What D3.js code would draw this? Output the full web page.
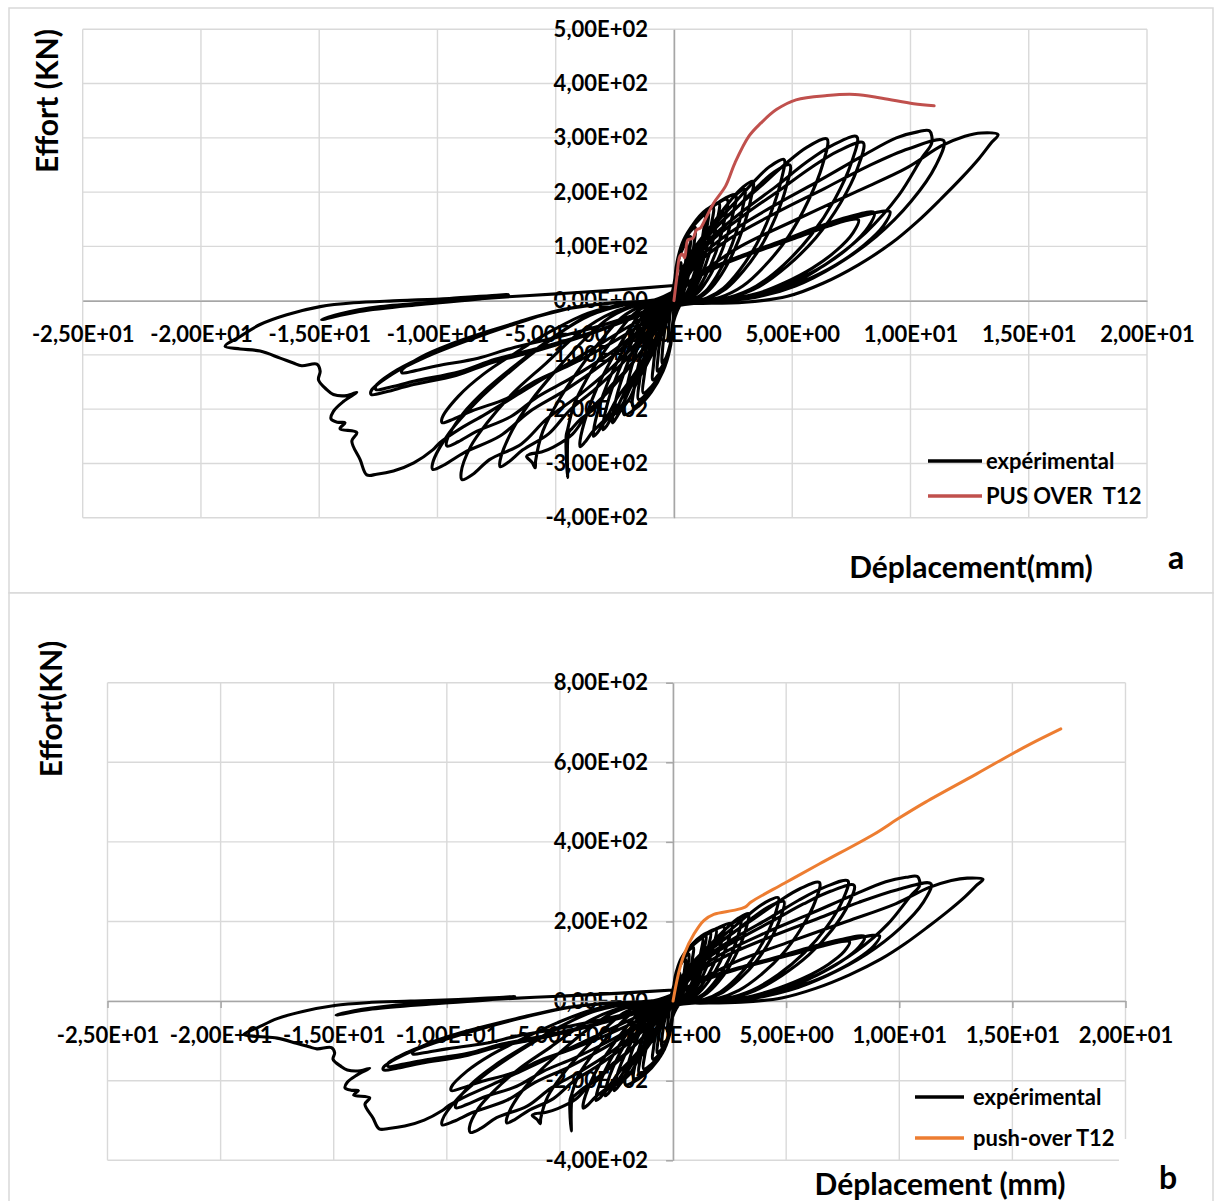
<!DOCTYPE html>
<html>
<head>
<meta charset="utf-8">
<script src="https://cdn.jsdelivr.net/npm/d3@7"></script>
<style>
  body { margin: 0; background: #fff; }
  svg text { font-family: Lato, "Open Sans", sans-serif; font-weight: 700; fill: #000; }
</style>
</head>
<body>
<svg id="fig" width="1215" height="1201"></svg>
<script>
// Cyclic test: displacement (mm) vs force (kN), traced cycle by cycle.
const smallCycles = [
  [0,0],[0.01,18],[0.03,32],[0.08,46],[0.15,57],[0.23,66],[0.3,70],[0.29,56],[0.24,35],[0.18,18],[0.12,6],[0.06,0],
  [-0.01,-15],[-0.02,-32],[-0.06,-47],[-0.11,-60],[-0.18,-70],[-0.25,-75],[-0.24,-62],[-0.21,-44],[-0.17,-26],[-0.12,-11],[-0.07,-3],[-0.03,0],
  [0.02,26],[0.06,47],[0.14,68],[0.28,86],[0.41,99],[0.55,105],[0.52,84],[0.44,53],[0.33,26],[0.22,8],[0.11,0],
  [-0.01,-23],[-0.04,-48],[-0.11,-71],[-0.23,-92],[-0.36,-107],[-0.5,-115],[-0.49,-94],[-0.43,-67],[-0.34,-40],[-0.24,-17],[-0.14,-5],[-0.05,0],
  [0.02,30],[0.07,53],[0.18,77],[0.35,97],[0.53,111],[0.7,118],[0.67,94],[0.56,59],[0.42,30],[0.28,9],[0.14,0],
  [-0.01,-26],[-0.06,-55],[-0.15,-81],[-0.32,-104],[-0.5,-121],[-0.7,-130],[-0.68,-107],[-0.6,-75],[-0.48,-46],[-0.34,-20],[-0.2,-5],[-0.07,0],
  [0.03,34],[0.09,61],[0.23,88],[0.45,111],[0.68,127],[0.9,135],[0.86,108],[0.72,68],[0.54,34],[0.36,11],[0.18,0],
  [-0.02,-29],[-0.07,-61],[-0.2,-91],[-0.41,-117],[-0.65,-136],[-0.9,-146],[-0.87,-120],[-0.77,-85],[-0.61,-51],[-0.43,-22],[-0.25,-6],[-0.09,0],
  [0.04,40],[0.13,71],[0.33,103],[0.65,130],[0.98,149],[1.3,158],[1.24,126],[1.04,79],[0.78,40],[0.52,13],[0.26,0],
  [-0.03,-34],[-0.1,-71],[-0.29,-105],[-0.59,-136],[-0.94,-158],[-1.3,-170],[-1.26,-139],[-1.1,-99],[-0.88,-60],[-0.62,-26],[-0.36,-7],[-0.13,0],
  [0.04,41],[0.15,74],[0.36,107],[0.73,135],[1.09,155],[1.45,165],[1.38,132],[1.16,83],[0.87,41],[0.58,13],[0.29,0],
  [-0.03,-36],[-0.12,-76],[-0.33,-113],[-0.68,-146],[-1.08,-169],[-1.5,-182],[-1.46,-149],[-1.28,-106],[-1.02,-64],[-0.72,-27],[-0.42,-7],[-0.15,0],
  [0.05,43],[0.17,78],[0.41,112],[0.83,142],[1.24,163],[1.65,173],[1.57,138],[1.32,87],[0.99,43],[0.66,14],[0.33,0],
  [-0.03,-39],[-0.14,-82],[-0.38,-121],[-0.78,-156],[-1.25,-181],[-1.73,-195],[-1.68,-160],[-1.47,-113],[-1.18,-68],[-0.83,-29],[-0.48,-8],[-0.17,0],
  [0.06,45],[0.19,81],[0.48,117],[0.95,148],[1.43,169],[1.9,180],[1.81,144],[1.52,90],[1.14,45],[0.76,14],[0.38,0],
  [-0.04,-42],[-0.17,-88],[-0.46,-130],[-0.95,-168],[-1.51,-195],[-2.1,-210],[-2.04,-172],[-1.79,-122],[-1.43,-74],[-1.01,-32],[-0.59,-8],[-0.21,0],
  [0.07,47],[0.23,84],[0.56,121],[1.13,153],[1.69,175],[2.25,186],[2.14,149],[1.8,93],[1.35,47],[0.9,15],[0.45,0],
  [-0.08,-11],[-0.34,-41],[-0.75,-83],[-1.17,-119],[-1.56,-149],[-1.87,-180],[-2.26,-203],[-2.47,-218],[-2.6,-225],[-2.6,-216],[-2.42,-176],[-2.13,-135],[-1.77,-95],[-1.35,-54],[-0.96,-23],[-0.57,-7],[-0.21,0],
  [0.08,49],[0.26,88],[0.65,127],[1.3,160],[1.95,183],[2.6,195],[2.47,156],[2.08,98],[1.56,49],[1.04,16],[0.52,0],
  [-0.09,-12],[-0.39,-43],[-0.87,-88],[-1.35,-126],[-1.8,-157],[-2.16,-190],[-2.61,-214],[-2.85,-231],[-3.0,-238],[-3.0,-228],[-2.79,-186],[-2.46,-143],[-2.04,-100],[-1.56,-57],[-1.11,-24],[-0.66,-7],[-0.24,0]
];

const midCycles = [
  [0.07,18],[0.27,48],[0.67,84],[1.27,121],[1.87,154],[2.4,185],[2.91,209],[3.34,220],[3.24,185],[2.94,136],[2.5,88],[2.0,48],[1.5,20],[1.0,4],[0.4,-2],
  [-0.1,-13],[-0.44,-45],[-0.99,-93],[-1.53,-133],[-2.04,-165],[-2.45,-200],[-2.96,-225],[-3.23,-243],[-3.4,-250],[-3.4,-240],[-3.16,-195],[-2.79,-150],[-2.31,-105],[-1.77,-60],[-1.26,-25],[-0.75,-8],[-0.27,0],
  [0.06,16],[0.24,45],[0.6,78],[1.14,113],[1.68,144],[2.16,172],[2.61,195],[3.0,205],[2.91,172],[2.64,127],[2.25,82],[1.8,45],[1.35,18],[0.9,4],[0.36,-2],
  [-0.12,-13],[-0.52,-48],[-1.15,-100],[-1.79,-143],[-2.38,-178],[-2.86,-215],[-3.45,-242],[-3.77,-261],[-3.97,-269],[-3.97,-258],[-3.69,-210],[-3.26,-161],[-2.7,-113],[-2.06,-65],[-1.47,-27],[-0.87,-8],[-0.32,0],
  [0.09,21],[0.37,57],[0.93,99],[1.77,143],[2.6,182],[3.35,218],[4.05,247],[4.65,260],[4.51,218],[4.09,161],[3.49,104],[2.79,57],[2.09,23],[1.4,5],[0.56,-3],
  [-0.14,-12],[-0.59,-44],[-1.31,-90],[-2.04,-129],[-2.72,-160],[-3.26,-195],[-3.94,-218],[-4.3,-235],[-4.45,-243],[-4.5,-326],[-4.56,-250],[-4.5,-238],[-4.21,-190],[-3.71,-146],[-3.08,-102],[-2.36,-58],[-1.68,-24],[-1.0,-7],[-0.36,0],
  [0.1,20],[0.39,55],[0.98,95],[1.86,138],[2.74,175],[3.53,210],[4.26,238],[4.9,250],[4.75,210],[4.31,155],[3.68,100],[2.94,55],[2.2,22],[1.47,5],[0.59,-3],
  [-0.18,-15],[-0.77,-55],[-1.73,-114],[-2.68,-163],[-3.58,-203],[-4.29,-246],[-5.1,-270],[-5.6,-279],[-6.1,-283],[-6.23,-287],[-6.0,-298],[-5.87,-308],[-5.85,-295],[-5.54,-240],[-4.89,-185],[-4.05,-129],[-3.1,-74],[-2.21,-31],[-1.31,-9],[-0.48,0]
];

const largeCycles = [
  [0.13,24],[0.52,66],[1.29,113],[2.46,164],[3.62,209],[4.66,250],[5.63,283],[6.47,298],[6.28,250],[5.69,185],[4.85,119],[3.88,66],[2.91,27],[1.94,6],[0.78,-3],
  [-0.22,-15],[-0.96,-55],[-2.13,-113],[-3.31,-162],[-4.41,-202],[-5.29,-245],[-6.39,-275],[-6.98,-297],[-7.35,-306],[-7.35,-294],[-6.84,-239],[-6.03,-184],[-5.0,-129],[-3.82,-73],[-2.72,-31],[-1.62,-9],[-0.59,0],
  [0.15,24],[0.62,66],[1.55,115],[2.94,166],[4.33,211],[5.57,254],[6.73,287],[7.73,302],[7.5,254],[6.8,187],[5.8,121],[4.64,66],[3.48,27],[2.32,6],[0.93,-3],
  [-0.27,-17],[-1.15,-59],[-2.6,-122],[-4.03,-175],[-5.38,-218],[-6.45,-264],[-7.8,-293],[-8.5,-320],[-8.96,-330],[-9.0,-317],[-8.6,-269],[-7.9,-225],[-6.8,-170],[-5.4,-115],[-4.0,-59],[-2.6,-22],[-1.1,-4],[-0.3,0],
  [0.16,23],[0.64,64],[1.6,111],[3.04,160],[4.48,204],[5.76,244],[6.96,276],[8.0,291],[7.76,244],[7.04,180],[6.0,116],[4.8,64],[3.6,26],[2.4,6],[0.96,-3],
  [-0.29,-13],[-1.25,-48],[-2.78,-99],[-4.32,-142],[-5.76,-177],[-6.91,-214],[-8.35,-241],[-9.12,-260],[-9.6,-268],[-9.6,-257],[-8.93,-209],[-7.87,-161],[-6.53,-113],[-4.99,-64],[-3.55,-27],[-2.11,-8],[-0.77,0],
  [0.22,25],[0.86,69],[2.16,119],[4.1,172],[6.05,219],[7.9,265],[9.4,300],[10.3,311],[10.8,313],[10.9,291],[10.48,263],[9.5,194],[8.1,125],[6.48,69],[4.86,28],[3.24,6],[1.3,-3],
  [-0.31,-16],[-1.33,-56],[-2.96,-115],[-4.59,-165],[-6.12,-205],[-7.34,-249],[-8.87,-280],[-9.69,-302],[-10.2,-311],[-10.2,-299],[-9.49,-243],[-8.36,-187],[-6.94,-131],[-5.3,-75],[-3.77,-31],[-2.24,-9],[-0.82,0]
];

const degradedCycles = [
  [0.18,13],[0.73,36],[1.83,62],[3.47,90],[5.11,115],[6.57,138],[7.94,156],[9.13,164],[8.86,138],[8.03,102],[6.85,66],[5.48,36],[4.11,15],[2.74,3],[1.1,-2],
  [-0.29,-11],[-1.27,-41],[-2.84,-83],[-4.41,-119],[-5.88,-149],[-7.06,-180],[-8.53,-203],[-9.31,-218],[-9.8,-225],[-9.8,-216],[-9.11,-176],[-8.04,-135],[-6.66,-95],[-5.1,-54],[-3.63,-23],[-2.16,-7],[-0.78,0],
  [0.23,24],[0.91,65],[2.28,112],[4.33,162],[6.38,207],[8.21,248],[9.92,280],[11.4,295],[11.06,248],[10.03,183],[8.55,118],[6.84,65],[5.13,27],[3.42,6],[1.37,-3],
  [-0.38,-9],[-1.66,-31],[-3.71,-64],[-5.76,-92],[-7.68,-114],[-9.22,-138],[-11.14,-156],[-12.16,-168],[-12.8,-173],[-12.8,-166],[-11.9,-135],[-10.5,-104],[-8.7,-73],[-6.66,-42],[-4.74,-17],[-2.82,-5],[-1.02,0],
  [0.17,13],[0.68,36],[1.69,62],[3.22,89],[4.74,113],[6.1,136],[7.37,154],[8.47,162],[8.22,136],[7.45,100],[6.35,65],[5.08,36],[3.81,15],[2.54,3],[1.02,-2],
  [-0.38,-8],[-1.64,-30],[-3.65,-61],[-5.67,-87],[-7.56,-108],[-9.07,-131],[-10.96,-148],[-11.97,-159],[-12.6,-164],[-12.6,-157],[-11.72,-128],[-10.33,-98],[-8.57,-69],[-6.55,-39],[-4.66,-16],[-2.77,-5],[-1.01,0],
  [0.16,12],[0.62,33],[1.56,57],[2.96,82],[4.37,104],[5.62,125],[6.79,142],[7.8,149],[7.57,125],[6.86,92],[5.85,60],[4.68,33],[3.51,13],[2.34,3],[0.94,-1],
  [-0.35,-7],[-1.5,-24],[-3.34,-49],[-5.18,-70],[-6.9,-88],[-8.28,-106],[-10.0,-120],[-10.93,-129],[-11.5,-133],[-11.5,-128],[-10.7,-104],[-9.43,-80],[-7.82,-56],[-5.98,-32],[-4.26,-13],[-2.53,-4],[-0.92,0]
];

const finalCycle = [
  [0.27,24],[1.1,50],[2.74,98],[5.2,150],[7.67,200],[9.86,245],[11.3,285],[12.3,303],[13.0,309],[13.7,306],[13.4,290],[12.9,262],[12.2,228],[11.3,188],[10.3,146],[9.2,106],[7.8,66],[6.3,32],[4.8,8],[3.0,-3],[1.2,-5],
  [0,-5],[-0.8,-20],[-2,-50],[-3.5,-90],[-5,-130],[-6.5,-170],[-8.0,-210],[-9.0,-235],[-9.9,-262],[-10.2,-275],[-11.0,-299],[-11.86,-314],[-12.57,-320],[-12.99,-321],
  [-13.27,-293],[-13.62,-259],[-13.41,-243],[-14.12,-236],[-13.91,-225],[-14.23,-224],[-14.5,-218],[-14.4,-204],[-13.98,-186],[-13.41,-169],
  [-13.83,-175],[-14.4,-173],[-14.68,-164],[-15.03,-146],[-14.96,-130],[-15.1,-117],[-15.74,-120],[-16.09,-115],[-16.65,-106],[-17.5,-93],[-18.34,-89],[-18.98,-84],
  [-18.34,-66],[-17.5,-44],[-16.37,-26],[-14.96,-11],[-13.55,-4],[-11.6,0],[-9.5,4],[-7.0,11],
  [-8.2,3],[-10.7,-7],[-13.3,-20],[-14.9,-35],[-14.1,-24],[-12.4,-11],[-9.9,-2],[-7.4,6],[-4.8,13],[-2.3,20],[0,28]
];

// Monotonic push-over predictions
const pushoverA = [[0,0],[0.11,39],[0.25,82],[0.35,86],[0.45,79],[0.59,112],[0.8,115],[0.96,131],[1.1,133],[1.31,149],[1.68,180],[2.18,211],[2.58,254],[3.17,303],[3.67,327],[4.33,352],[5.16,370],[6.47,378],[7.65,380],[8.8,373],[10.13,363],[11.0,359]];
const pushoverB = [[0,0],[0.24,69],[0.5,119],[0.93,169],[1.37,203],[1.8,218],[2.67,228],[3.18,236],[3.45,249],[4.92,296],[6.48,345],[8.9,420],[9.94,458],[11.16,500],[13.42,571],[14.98,621],[15.83,647],[17.14,684]];

// Axis ticks
const xTickValues = [-25, -20, -15, -10, -5, 0, 5, 10, 15, 20];
const yTickValuesA = [-400, -300, -200, -100, 0, 100, 200, 300, 400, 500];
const yTickValuesB = [-400, -200, 0, 200, 400, 600, 800];

const experimental = [...smallCycles, ...midCycles, ...largeCycles, ...degradedCycles, ...finalCycle];

// Excel-style scientific label: 2,50E+01
function sci(v) {
  const [m, e] = v.toExponential(2).split("e");
  const ei = parseInt(e, 10);
  return m.replace(".", ",") + "E" + (ei < 0 ? "-" : "+") + String(Math.abs(ei)).padStart(2, "0");
}

const svg = d3.select("#fig");
const GRID = "#d9d9d9", AXIS = "#a6a6a6";

function drawPanel(cfg) {
  const g = svg.append("g");
  g.append("rect").attr("x", cfg.card[0]).attr("y", cfg.card[1]).attr("width", cfg.card[2]).attr("height", cfg.card[3])
    .attr("fill", "#fff").attr("stroke", GRID).attr("stroke-width", 1.5);

  const x = d3.scaleLinear().domain([-25, 20]).range([cfg.left, cfg.right]);
  const y = d3.scaleLinear().domain(cfg.yDomain).range([cfg.bottom, cfg.top]);

  // grid
  g.append("g").selectAll("line").data(xTickValues).join("line")
    .attr("x1", d => x(d)).attr("x2", d => x(d)).attr("y1", cfg.top).attr("y2", cfg.bottom)
    .attr("stroke", GRID).attr("stroke-width", 1.4);
  g.append("g").selectAll("line").data(cfg.yTicks).join("line")
    .attr("x1", cfg.left).attr("x2", cfg.right).attr("y1", d => y(d)).attr("y2", d => y(d))
    .attr("stroke", GRID).attr("stroke-width", 1.4);

  // axes through the origin
  const yAxis = d3.axisLeft(y).tickValues(cfg.yTicks).tickFormat(sci)
    .tickSizeInner(cfg.tick).tickSizeOuter(0).tickPadding(cfg.yPad);
  const xAxis = d3.axisBottom(x).tickValues(xTickValues).tickFormat(sci)
    .tickSizeInner(cfg.tick).tickSizeOuter(0).tickPadding(cfg.xPad);
  const ya = g.append("g").attr("transform", `translate(${x(0)},0)`).call(yAxis);
  const xa = g.append("g").attr("transform", `translate(0,${y(0)})`).call(xAxis);
  [ya, xa].forEach(a => {
    a.select(".domain").attr("stroke", AXIS).attr("stroke-width", 1.5);
    a.selectAll(".tick line").attr("stroke", AXIS).attr("stroke-width", 1.5);
    a.selectAll("text").attr("font-family", "Lato").attr("font-weight", 700)
      .attr("font-size", cfg.tickFont).attr("fill", "#000");
  });

  const line = d3.line().x(d => x(d[0])).y(d => y(d[1])).curve(d3.curveCatmullRom.alpha(0.5));
  g.append("path").datum(experimental).attr("d", line)
    .attr("fill", "none").attr("stroke", "#000").attr("stroke-width", 3.1)
    .attr("stroke-linejoin", "round").attr("stroke-linecap", "round");
  g.append("path").datum(cfg.pushover).attr("d", line)
    .attr("fill", "none").attr("stroke", cfg.color).attr("stroke-width", 3)
    .attr("stroke-linejoin", "round").attr("stroke-linecap", "round");

  // legend
  const lg = g.append("g");
  if (cfg.legendMask) {
    lg.append("rect").attr("x", cfg.legendMask[0]).attr("y", cfg.legendMask[1])
      .attr("width", cfg.legendMask[2]).attr("height", cfg.legendMask[3]).attr("fill", "#fff");
  }
  const items = [["expérimental", "#000"], [cfg.pushName, cfg.color]];
  items.forEach((it, i) => {
    const yy = cfg.legend.y[i];
    lg.append("line").attr("x1", cfg.legend.x1).attr("x2", cfg.legend.x2).attr("y1", yy).attr("y2", yy)
      .attr("stroke", it[1]).attr("stroke-width", 3.5);
    lg.append("text").attr("x", cfg.legend.tx).attr("y", yy).attr("dy", "0.35em")
      .style("white-space", "pre")
      .attr("font-size", cfg.tickFont).text(it[0]);
  });

  // titles
  g.append("text").attr("transform", `translate(${cfg.yTitle[0]},${cfg.yTitle[1]}) rotate(-90)`)
    .attr("text-anchor", "middle").attr("dy", "0.35em").attr("font-size", cfg.titleFont).text(cfg.yTitleText);
  g.append("text").attr("x", cfg.xTitle[0]).attr("y", cfg.xTitle[1])
    .attr("text-anchor", "middle").attr("font-size", cfg.titleFont).text(cfg.xTitleText);
  g.append("text").attr("x", cfg.tag[0]).attr("y", cfg.tag[1])
    .attr("text-anchor", "middle").attr("font-size", 32).text(cfg.tagText);
}

drawPanel({
  card: [9, 8, 1204, 585],
  left: 82.7, right: 1147, top: 29.3, bottom: 517.7,
  yDomain: [-400, 500], yTicks: yTickValuesA,
  tick: 0, yPad: 26, xPad: 26, tickFont: 22,
  pushover: pushoverA, color: "#c0504d", pushName: "PUS OVER  T12",
  legend: { x1: 928, x2: 982, tx: 986, y: [461, 496] },
  yTitle: [47, 101], yTitleText: "Effort (KN)",
  xTitle: [971, 578], xTitleText: "Déplacement(mm)",
  titleFont: 30, tag: [1176, 569], tagText: "a"
});

drawPanel({
  card: [9, 593, 1204, 620],
  left: 107.5, right: 1125.5, top: 682.7, bottom: 1160.3,
  yDomain: [-400, 800], yTicks: yTickValuesB,
  tick: 7, yPad: 18, xPad: 19, tickFont: 22,
  pushover: pushoverB, color: "#ed7d31", pushName: "push-over T12",
  legend: { x1: 915, x2: 964, tx: 973, y: [1097, 1138] },
  legendMask: [1119, 1139, 16, 30],
  yTitle: [51, 709], yTitleText: "Effort(KN)",
  xTitle: [940, 1195], xTitleText: "Déplacement (mm)",
  titleFont: 30, tag: [1168, 1189], tagText: "b"
});
</script>
</body>
</html>
